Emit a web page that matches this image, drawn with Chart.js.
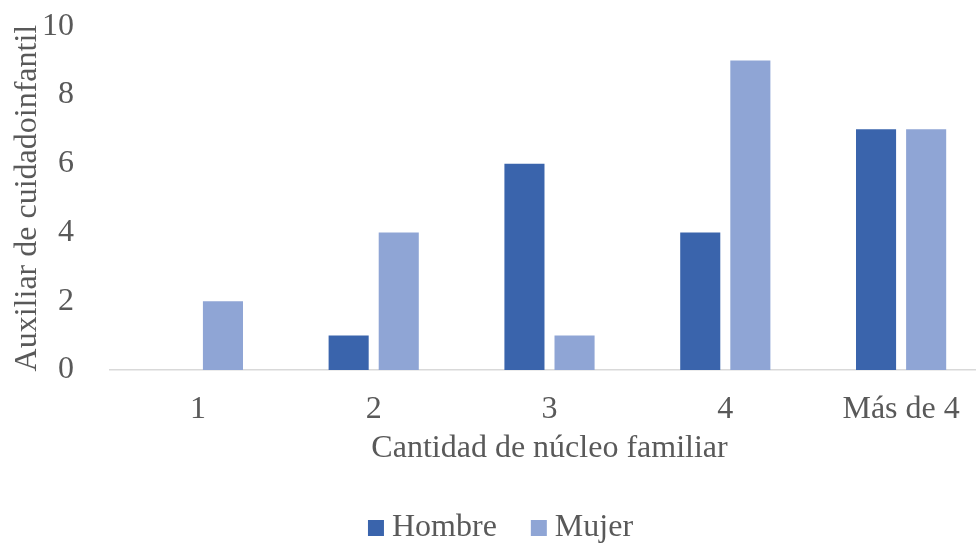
<!DOCTYPE html>
<html>
<head>
<meta charset="utf-8">
<script src="https://cdn.jsdelivr.net/npm/chart.js@4/dist/chart.umd.min.js"></script>
<style>
  html, body { margin: 0; padding: 0; background: #ffffff; overflow: hidden; }
  /* the plot area runs a little past the right edge of the view */
  #wrap { width: 976px; height: 544px; overflow: hidden; position: relative; }
  #chart { position: absolute; left: 0; top: -21px; }
</style>
</head>
<body>
<div id="wrap"><canvas id="chart" width="989" height="575"></canvas></div>
<script>
const categories = ['1', '2', '3', '4', 'Más de 4'];
const hombre = [0, 1, 6, 4, 7];
const mujer = [2, 4, 1, 9, 7];
const yTicks = [0, 2, 4, 6, 8, 10];

const textColor = '#595959';
const serif = "'Liberation Serif', 'Times New Roman', serif";
const fontSize = 32;

new Chart(document.getElementById('chart'), {
  type: 'bar',
  data: {
    labels: categories,
    datasets: [
      { label: 'Hombre', data: hombre, backgroundColor: '#3A64AC', pointStyle: 'rect' },
      { label: 'Mujer', data: mujer, backgroundColor: '#8FA5D5', pointStyle: 'rect' }
    ]
  },
  options: {
    responsive: false,
    animation: false,
    devicePixelRatio: 1,
    categoryPercentage: 0.57,
    barPercentage: 0.8,
    layout: { padding: { left: 20, right: 0, top: 0, bottom: 0 } },
    plugins: {
      tooltip: { enabled: false },
      legend: {
        position: 'bottom',
        labels: {
          color: textColor,
          font: { family: serif, size: fontSize },
          usePointStyle: true,
          boxWidth: 0.01,
          boxHeight: 16,
          padding: 42
        }
      }
    },
    scales: {
      x: {
        grid: { display: false },
        border: { display: true, color: '#D9D9D9', width: 1.5 },
        ticks: { color: textColor, font: { family: serif, size: fontSize }, padding: 12 },
        title: {
          display: true,
          text: 'Cantidad de núcleo familiar',
          color: textColor,
          font: { family: serif, size: fontSize },
          padding: { top: 0, bottom: 2 }
        },
        afterFit: (axis) => { axis.height = 100; }
      },
      y: {
        min: 0,
        max: 10,
        afterBuildTicks: (axis) => { axis.ticks = yTicks.map(v => ({ value: v })); },
        grid: { display: false },
        border: { display: false },
        ticks: { color: textColor, font: { family: serif, size: fontSize }, padding: 28 },
        title: {
          display: true,
          text: 'Auxiliar de cuidadoinfantil',
          color: textColor,
          font: { family: serif, size: fontSize },
          padding: { top: -12, bottom: 4 }
        },
        afterFit: (axis) => { axis.width = 90; }
      }
    }
  }
});
</script>
</body>
</html>
